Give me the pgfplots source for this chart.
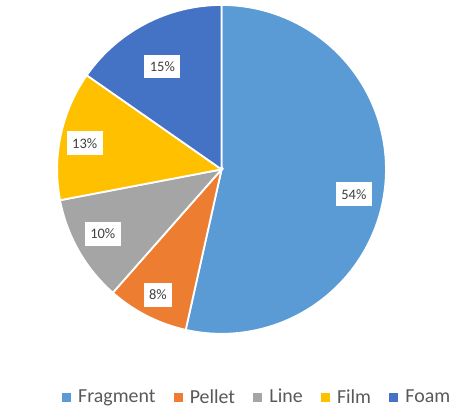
\documentclass[border=0pt]{standalone}
\usepackage{fontspec}
\setmainfont{Carlito}
\usepackage{pgfplots}
\pgfplotsset{compat=1.18}
\definecolor{cFrag}{HTML}{5B9BD5}
\definecolor{cPel}{HTML}{ED7D31}
\definecolor{cLine}{HTML}{A5A5A5}
\definecolor{cFilm}{HTML}{FFC000}
\definecolor{cFoam}{HTML}{4472C4}
\definecolor{labtxt}{HTML}{404040}
\definecolor{legtxt}{HTML}{595959}
\begin{document}
% slice shares in percent
\def\vFrag{53.5}
\def\vPel{8.0}
\def\vLine{10.5}
\def\vFilm{12.7}
\def\vFoam{15.3}
\pgfmathsetmacro{\aA}{90}
\pgfmathsetmacro{\aB}{\aA-3.6*\vFrag}
\pgfmathsetmacro{\aC}{\aB-3.6*\vPel}
\pgfmathsetmacro{\aD}{\aC-3.6*\vLine}
\pgfmathsetmacro{\aE}{\aD-3.6*\vFilm}
\pgfmathsetmacro{\aF}{\aE-3.6*\vFoam}
\begin{tikzpicture}
\begin{axis}[at={(0,0)}, anchor=south west, x=0.5pt, y=0.5pt,
  xmin=0, xmax=455, ymin=0, ymax=456, hide axis, clip=false,
  legend columns=-1,
  legend image code/.code={\fill[#1, draw=none] (0pt,-2.5pt) rectangle (5pt,2.5pt);},
  legend style={at={(449/455,16/456)}, anchor=east, draw=none, fill=none,
    inner sep=0pt, font=\fontsize{11}{13}\selectfont, text=legtxt,
    nodes={inner sep=0pt},
    /tikz/every odd column/.append style={column sep=4pt},
    /tikz/every even column/.append style={column sep=10pt}},
  ]
\path (axis cs:0,0) rectangle (axis cs:455,456);
\addplot[fill=cFrag, draw=white, line width=1pt, domain=\aB:\aA, samples=150, variable=\t]
  ({195.5+182*cos(\t)},{268.5+182*sin(\t)}) -- (axis cs:195.5,268.5) -- cycle;
\addlegendentry{Fragment}
\addplot[fill=cPel, draw=white, line width=1pt, domain=\aC:\aB, samples=40, variable=\t]
  ({195.5+182*cos(\t)},{268.5+182*sin(\t)}) -- (axis cs:195.5,268.5) -- cycle;
\addlegendentry{Pellet}
\addplot[fill=cLine, draw=white, line width=1pt, domain=\aD:\aC, samples=40, variable=\t]
  ({195.5+182*cos(\t)},{268.5+182*sin(\t)}) -- (axis cs:195.5,268.5) -- cycle;
\addlegendentry{Line}
\addplot[fill=cFilm, draw=white, line width=1pt, domain=\aE:\aD, samples=40, variable=\t]
  ({195.5+182*cos(\t)},{268.5+182*sin(\t)}) -- (axis cs:195.5,268.5) -- cycle;
\addlegendentry{Film}
\addplot[fill=cFoam, draw=white, line width=1pt, domain=\aF:\aE, samples=50, variable=\t]
  ({195.5+182*cos(\t)},{268.5+182*sin(\t)}) -- (axis cs:195.5,268.5) -- cycle;
\addlegendentry{Foam}
\tikzset{lab/.style={fill=white, text=labtxt, font=\fontsize{8}{10}\selectfont,
  inner xsep=3pt, inner ysep=0pt, minimum height=13pt}}
\node[lab] at (axis cs:342,241) {54\%};
\node[lab] at (axis cs:125,129.5) {8\%};
\node[lab] at (axis cs:64,197) {10\%};
\node[lab] at (axis cs:44,297.5) {13\%};
\node[lab] at (axis cs:130,382.5) {15\%};
\end{axis}
\end{tikzpicture}
\end{document}
